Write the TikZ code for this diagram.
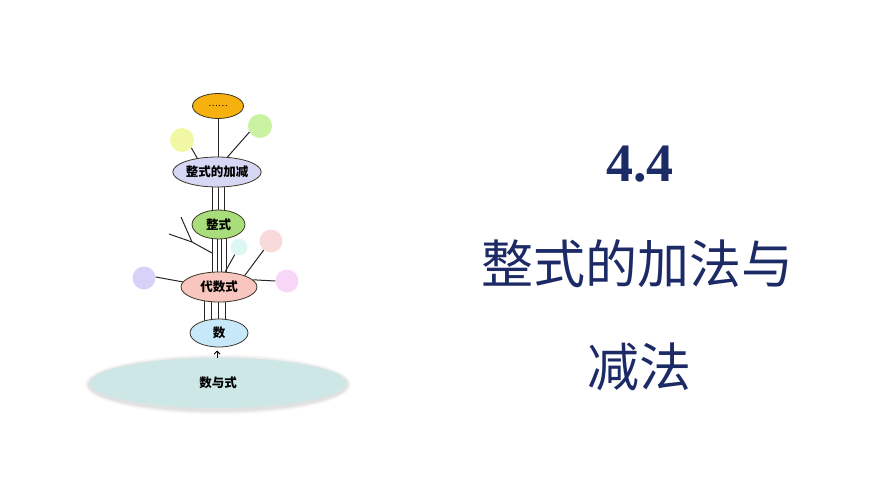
\documentclass[tikz,border=0pt]{standalone}
\usepackage{fontspec}
\setmainfont{Liberation Serif}
\newfontfamily\cjk{Noto Sans CJK SC}
\usetikzlibrary{shapes.geometric,backgrounds,arrows.meta}
\definecolor{navy}{HTML}{1C2A66}
\definecolor{edge}{HTML}{3A3626}
\definecolor{orangeF}{HTML}{F6B10E}
\definecolor{yellowF}{HTML}{F2F7A4}
\definecolor{greenC}{HTML}{CBF2A2}
\definecolor{lavF}{HTML}{D6D6F5}
\definecolor{greenF}{HTML}{A9DC7A}
\definecolor{cyanF}{HTML}{DDF8F3}
\definecolor{pinkC}{HTML}{F8DADA}
\definecolor{blueC}{HTML}{D6D2F8}
\definecolor{magC}{HTML}{F8D6F8}
\definecolor{pinkF}{HTML}{F8C6BE}
\definecolor{skyF}{HTML}{C6E8F8}
\definecolor{baseF}{HTML}{CDE6E6}
\tikzset{
  oval/.style={ellipse, draw=edge, line width=0.8pt, inner sep=0pt,
    font=\cjk\bfseries\fontsize{12.5}{12.5}\selectfont},
  ball/.style={circle, inner sep=0pt, draw=none},
  stem/.style={line width=1pt, draw=black!85},
  title/.style={text=navy, inner sep=0pt},
}
\begin{document}
\begin{tikzpicture}[x=1pt,y=-1pt]
\useasboundingbox (0,0) rectangle (870,489);
% base ellipse with soft shadow
\foreach \d/\o in {5/0.03,3.5/0.04,2/0.05}
  \fill[black, opacity=\o] (218,384.5) ellipse ({128+\d} and {25+\d});
\node[ellipse, fill=baseF, minimum width=256pt, minimum height=50pt, inner sep=0pt,
  font=\cjk\bfseries\fontsize{12.5}{12.5}\selectfont] (base) at (218,383) {数与式};
% main ovals
\node[oval, fill=orangeF, minimum width=51pt, minimum height=25pt,
  font=\cjk\fontsize{9}{9}\selectfont] (dots) at (218,106) {……};
\node[oval, fill=lavF, minimum width=84pt, minimum height=30pt] (zsjj) at (217,172) {整式的加减};
\node[oval, fill=greenF, minimum width=53pt, minimum height=29pt] (zs) at (218.5,224.5) {整式};
\node[oval, fill=pinkF, minimum width=76pt, minimum height=30pt] (dss) at (219,287) {代数式};
\node[oval, fill=skyF, minimum width=58pt, minimum height=28pt] (shu) at (219,333) {数};
% balls
\node[ball, fill=yellowF, minimum size=24pt] (yb) at (182,140) {};
\node[ball, fill=greenC, minimum size=24pt] (gb) at (260,126) {};
\node[ball, fill=cyanF, minimum size=17pt] (cb) at (239,247) {};
\node[ball, fill=pinkC, minimum size=23pt] (pb) at (271,241) {};
\node[ball, fill=blueC, minimum size=23pt] (bb) at (144,278) {};
\node[ball, fill=magC, minimum size=23pt] (mb) at (287,281) {};
% branch coordinates
\coordinate (b0) at (212,253);
\coordinate (b1) at (192,242);
\coordinate (b2) at (169,234);
\coordinate (b3) at (181,217);
\coordinate (arr) at (217,358);
\coordinate (arrT) at (217,350.5);
\begin{scope}[on background layer]
  \foreach \x in {212.5,218.5,224.5}
    \draw[stem] (\x,0 |- zsjj.center) -- (\x,0 |- zs.center);
  \foreach \x in {212,217,221.5,226}
    \draw[stem] (\x,0 |- zs.center) -- (\x,0 |- dss.center);
  \foreach \x in {204,211,218,225}
    \draw[stem] (\x,0 |- dss.center) -- (\x,0 |- shu.center);
\end{scope}
% connectors
\draw[stem] (zsjj.north -| dots.south) -- (dots.south);
\draw[stem] (zsjj.145) -- (yb.-40);
\draw[stem] (zsjj.55) -- (gb.210);
\draw[stem] (dss.172) -- (bb.5);
\draw[stem] (dss.24) -- (pb.231);
\draw[stem] (dss.12) -- (mb.180);
\draw[stem] (dss.68) -- (cb.241);
\draw[stem] (b0) -- (b1) -- (b2);
\draw[stem] (b1) -- (b3);
\draw[line width=0.9pt, -{Straight Barb[length=3pt,width=6pt]}] (arr) -- (arrT);
% titles
\node[title, font=\bfseries\fontsize{54}{54}\selectfont] (t1) at (640,164) {4.4};
\node[title, font=\cjk\fontsize{52}{52}\selectfont] (t2) at (637,264) {整式的加法与};
\node[title, font=\cjk\fontsize{52}{52}\selectfont] (t3) at (639,367) {减法};
\end{tikzpicture}
\end{document}
